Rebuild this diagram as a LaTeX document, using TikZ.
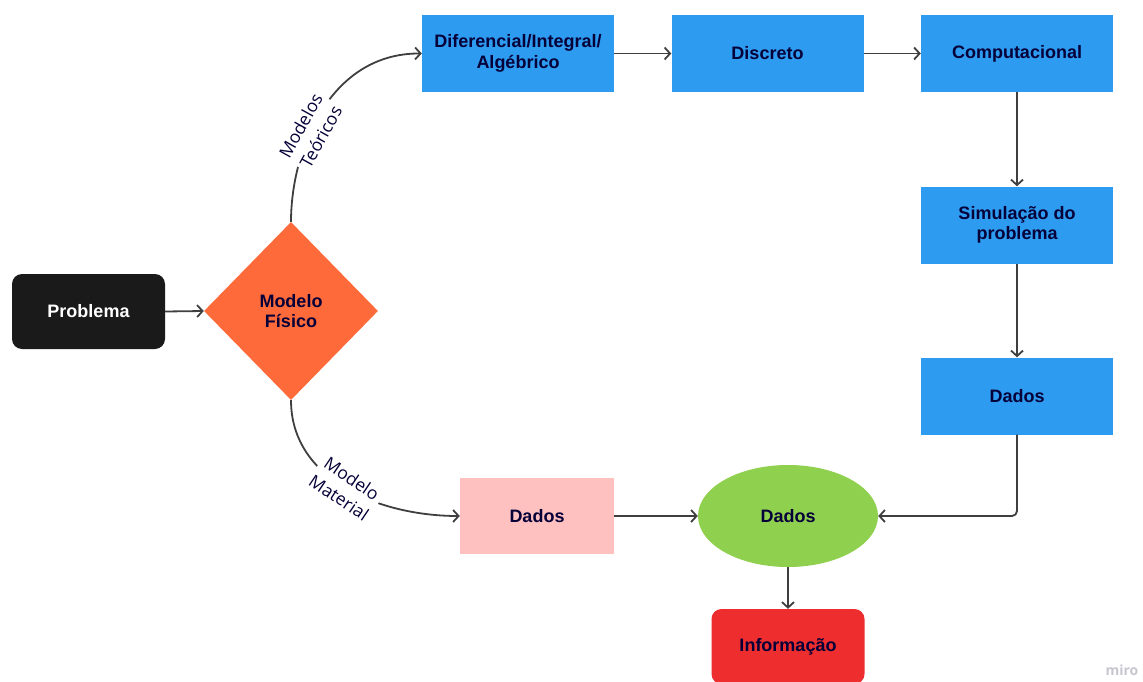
\documentclass[tikz,border=0pt]{standalone}
\usepackage{fontspec}
\setmainfont{Liberation Sans}
\newfontfamily\labfont{Open Sans}
\usetikzlibrary{shapes.geometric,arrows.meta}
\definecolor{navy}{HTML}{050038}
\definecolor{mblue}{HTML}{2D9BF0}
\definecolor{morange}{HTML}{FF6A3B}
\definecolor{mgreen}{HTML}{8FD14F}
\definecolor{mpink}{HTML}{FFC0C0}
\definecolor{mred}{HTML}{EE2E2E}
\definecolor{mblack}{HTML}{1A1A1A}
\definecolor{linec}{HTML}{3F3F3F}
\definecolor{wm}{HTML}{C6C6D0}
\tikzset{
  boxtext/.style={align=center, inner sep=0pt, text=navy, font=\fontsize{18}{20.5}\selectfont\bfseries},
  bluebox/.style={boxtext, fill=mblue, minimum width=192pt, minimum height=77pt},
  pinkbox/.style={boxtext, fill=mpink, minimum width=154pt, minimum height=76pt},
  redbox/.style={boxtext, fill=mred, rounded corners=10pt, minimum width=153pt, minimum height=75pt},
  blackbox/.style={boxtext, text=white, fill=mblack, rounded corners=10pt, minimum width=153pt, minimum height=75pt},
  diamondbox/.style={boxtext, shape=diamond, fill=morange, minimum width=174pt, minimum height=178pt},
  ellbox/.style={boxtext, shape=ellipse, fill=mgreen, minimum width=180pt, minimum height=102pt},
  arr/.style={draw=linec, line width=1.8pt, -{Straight Barb[length=5.5pt,width=12pt]}},
  lab/.style={fill=white, align=center, inner sep=2pt, text=navy, font=\labfont\fontsize{17.5}{23}\selectfont}
}
\begin{document}
\begin{tikzpicture}[x=1pt,y=1pt]
\useasboundingbox (0,0) rectangle (1143,-682);
\node[blackbox] (prob) at (88.5,-311.5) {Problema};
\node[diamondbox] (mf) at (291,-311) {Modelo\\Físico};
\node[bluebox] (dif) at (518,-53.5) {Diferencial/Integral/\\Algébrico};
\node[bluebox] (dis) at (767.5,-53.5) {Discreto};
\node[bluebox] (comp) at (1017,-53.5) {Computacional};
\node[bluebox] (sim) at (1017,-225) {Simulação do\\problema};
\node[bluebox] (bd) at (1017,-396) {Dados};
\node[pinkbox] (pd) at (537,-516) {Dados};
\node[ellbox] (gd) at (788,-516) {Dados};
\node[redbox] (inf) at (788,-646.5) {Informação};
\node[text=wm, font=\labfont\fontsize{14}{14}\selectfont\bfseries] (miro) at (1122,-670) {miro};

\draw[arr] (prob.east) -- (mf.west);
\draw[arr] (mf.north) .. controls (291,-150) and (330,-53) .. (dif.west)
  node[lab, pos=0.4, rotate=61] {Modelos\\Teóricos};
\draw[arr] (mf.south) .. controls (291,-480) and (380,-516) .. (pd.west)
  node[lab, pos=0.5, rotate=-34] {Modelo\\Material};
\draw[arr] (dif.east) -- (dis.west);
\draw[arr] (dis.east) -- (comp.west);
\draw[arr] (comp.south) -- (sim.north);
\draw[arr] (sim.south) -- (bd.north);
\draw[arr, rounded corners=5pt] (bd.south) |- (gd.east);
\draw[arr] (pd.east) -- (gd.west);
\draw[arr] (gd.south) -- (inf.north);
\end{tikzpicture}
\end{document}
